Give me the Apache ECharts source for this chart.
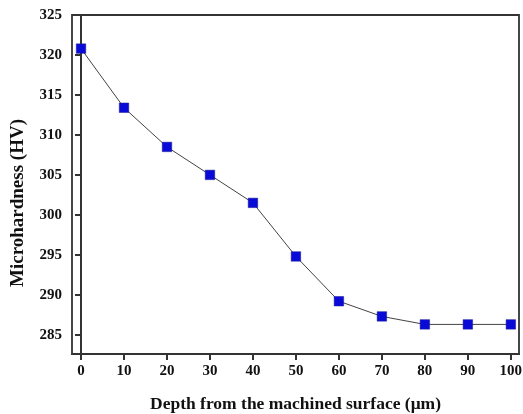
<!DOCTYPE html>
<html>
<head>
<meta charset="utf-8">
<script src="https://cdn.jsdelivr.net/npm/echarts@6/dist/echarts.min.js"></script>
<style>html,body{margin:0;padding:0;background:#fff}#c{width:523px;height:414px}</style>
</head>
<body>
<div id="c"></div>
<script>
const depths = [0, 10, 20, 30, 40, 50, 60, 70, 80, 90, 100];
const hardness = [320.8, 313.4, 308.5, 305.0, 301.5, 294.8, 289.2, 287.3, 286.3, 286.3, 286.3];
const xTicks = [0, 10, 20, 30, 40, 50, 60, 70, 80, 90, 100];
const yTicks = [285, 290, 295, 300, 305, 310, 315, 320, 325];
const xTitle = 'Depth from the machined surface (μm)';
const yTitle = 'Microhardness (HV)';

const font = 'Liberation Serif, Times New Roman, serif';
const chart = echarts.init(document.getElementById('c'));
chart.setOption({
  animation: false,
  grid: {left: 72, right: 4, top: 15, bottom: 60, outerBoundsMode: 'none', containLabel: false,
         show: true, borderColor: '#333', borderWidth: 1.8, backgroundColor: '#fff'},
  graphic: [{
    type: 'text', x: 18, y: 203, rotation: Math.PI / 2,
    style: {text: yTitle, fontFamily: font, fontWeight: 'bold', fontSize: 19, fill: '#111', align: 'center', verticalAlign: 'middle'}
  }],
  xAxis: {
    type: 'value', min: -2.1, max: 101.9,
    name: xTitle, nameLocation: 'middle', nameGap: 41,
    nameTextStyle: {fontFamily: font, fontWeight: 'bold', fontSize: 17.5, color: '#111'},
    axisLine: {show: true, lineStyle: {color: '#333', width: 2}},
    axisTick: {show: true, length: 6, customValues: xTicks, lineStyle: {color: '#333', width: 2}},
    axisLabel: {customValues: xTicks, margin: 10, fontFamily: font, fontWeight: 'bold', fontSize: 15, color: '#111'},
    splitLine: {show: false}
  },
  yAxis: {
    type: 'value', min: 282.6, max: 325,
    axisLine: {show: true, lineStyle: {color: '#333', width: 2}},
    axisTick: {show: true, length: 6, customValues: yTicks, lineStyle: {color: '#333', width: 2}},
    axisLabel: {customValues: yTicks, margin: 10, fontFamily: font, fontWeight: 'bold', fontSize: 15, color: '#111'},
    splitLine: {show: false}
  },
  series: [{
    type: 'line',
    data: depths.map((d, i) => [d, hardness[i]]),
    symbol: 'rect', symbolSize: 9.5,
    lineStyle: {color: '#444', width: 1},
    itemStyle: {color: '#0a0ad8', borderColor: '#1a1a90', borderWidth: 0.5}
  }]
});
</script>
</body>
</html>
